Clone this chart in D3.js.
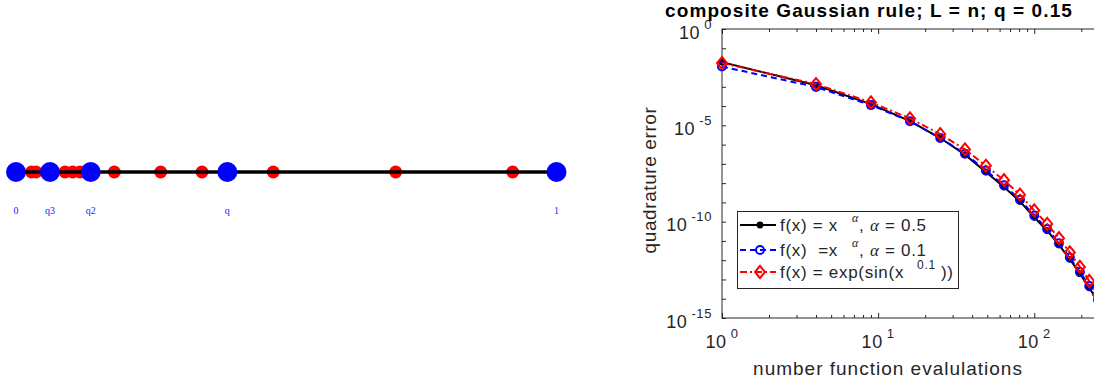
<!DOCTYPE html>
<html>
<head>
<meta charset="utf-8">
<script src="https://cdn.jsdelivr.net/npm/d3@7/dist/d3.min.js"></script>
<style>
  body { margin: 0; background: #fff; }
  svg { display: block; }
</style>
</head>
<body>
<div id="canvas"></div>
<script>
// ---- left panel: points on the unit interval ----
const nodeLabels = ["0", "q3", "q2", "q", "1"];
const nodePos = [0, 0.0629, 0.1382, 0.391, 1];
const quadPos = [0.0287, 0.037, 0.0907, 0.1049, 0.1184, 0.1819, 0.2677, 0.3441, 0.476, 0.7025, 0.919];

// ---- right panel: error vs number of function evaluations ----
const evals = [1, 4, 9, 16, 25, 36, 49, 64, 81, 100, 121, 144, 169, 196, 225, 256];
const errAlphaHalf = [1.91e-2, 1.20e-3, 1.26e-4, 1.66e-5, 2.19e-6, 3.02e-7, 3.80e-8, 6.31e-9,
  1.12e-9, 1.70e-10, 3.39e-11, 6.17e-12, 1.12e-12, 2.00e-13, 3.72e-14, 7.08e-15];
const errAlphaTenth = [1.12e-2, 9.77e-4, 1.12e-4, 1.62e-5, 2.19e-6, 3.39e-7, 4.57e-8, 7.76e-9,
  1.38e-9, 2.09e-10, 4.17e-11, 7.59e-12, 1.38e-12, 2.45e-13, 4.57e-14, 8.91e-15];
const errExpSin = [1.70e-2, 1.38e-3, 1.55e-4, 2.29e-5, 3.47e-6, 5.62e-7, 7.94e-8, 1.41e-8,
  2.51e-9, 3.80e-10, 7.59e-11, 1.38e-11, 2.51e-12, 4.47e-13, 8.32e-14, 1.58e-14];

const xMajor = [1, 10, 100];
const xMinor = [2, 3, 4, 5, 6, 7, 8, 9, 20, 30, 40, 50, 60, 70, 80, 90, 200];
const yDecades = d3.range(0, -16, -1).map(e => Math.pow(10, e));
const yLabelExp = [0, -5, -10, -15];

const titleText = "composite Gaussian rule; L = n; q = 0.15";
const xLabelText = "number function evalulations";
const yLabelText = "quadrature error";

const width = 1094, height = 383;
const ink = "#262626";
const sans = "'Liberation Sans', Arial, Helvetica, sans-serif";
const serif = "'Liberation Serif', 'Times New Roman', serif";

const svg = d3.select("#canvas")
    .append("svg")
    .attr("width", width)
    .attr("height", height);

// ================= left panel =================
const xl = d3.scaleLinear().domain([0, 1]).range([16, 556.5]);
const lineY = 172;
const left = svg.append("g");

left.selectAll(".quad")
    .data(quadPos)
    .enter()
    .append("circle")
    .attr("cx", d => xl(d))
    .attr("cy", lineY)
    .attr("r", 6.5)
    .style("fill", "#ff0000");

left.append("line")
    .attr("x1", xl(0)).attr("x2", xl(1))
    .attr("y1", lineY).attr("y2", lineY)
    .style("stroke", "#000")
    .style("stroke-width", 3.5);

left.selectAll(".node")
    .data(nodePos)
    .enter()
    .append("circle")
    .attr("cx", d => xl(d))
    .attr("cy", lineY)
    .attr("r", 10)
    .style("fill", "#0000ff");

left.selectAll(".nodeLabel")
    .data(nodePos)
    .enter()
    .append("text")
    .attr("x", d => xl(d))
    .attr("y", 214)
    .attr("text-anchor", "middle")
    .style("font-family", serif)
    .style("font-size", "10px")
    .style("fill", "#2020ff")
    .text((d, i) => nodeLabels[i]);

// ================= right panel =================
const ax = {left: 722, top: 29, right: 1098, bottom: 318};

const x = d3.scaleLog()
    .domain([1, 256])
    .range([ax.left, ax.right]);
const y = d3.scaleLog()
    .domain([1e-15, 1])
    .range([ax.bottom, ax.top]);

const right = svg.append("g");

// ticks (inward, mirrored on every side)
function tickGroup(axisFn, scale, vals, len, tx, ty) {
    const g = right.append("g")
        .attr("transform", "translate(" + tx + "," + ty + ")")
        .call(axisFn(scale).tickValues(vals).tickSize(-len).tickFormat(""));
    g.select(".domain").remove();
    g.selectAll(".tick line").style("stroke", ink).style("stroke-width", 1);
}
tickGroup(d3.axisBottom, x, xMajor, 5, 0, ax.bottom);
tickGroup(d3.axisBottom, x, xMinor, 3, 0, ax.bottom);
tickGroup(d3.axisTop, x, xMajor, 5, 0, ax.top);
tickGroup(d3.axisTop, x, xMinor, 3, 0, ax.top);
tickGroup(d3.axisLeft, y, yDecades, 4, ax.left, 0);
tickGroup(d3.axisRight, y, yDecades, 4, ax.right, 0);

right.append("rect")
    .attr("x", ax.left).attr("y", ax.top)
    .attr("width", ax.right - ax.left).attr("height", ax.bottom - ax.top)
    .style("fill", "none")
    .style("stroke", ink)
    .style("stroke-width", 1);

// tick labels with superscripts
function powerLabel(sel, exp) {
    sel.append("tspan").text("10");
    sel.append("tspan")
        .attr("dx", 4).attr("dy", -10)
        .style("font-size", "13px")
        .text(String(exp));
}
xMajor.forEach(v => {
    const t = right.append("text")
        .attr("x", x(v)).attr("y", 348)
        .attr("text-anchor", "middle")
        .style("font-family", sans).style("font-size", "18px")
        .style("letter-spacing", "0.6px")
        .style("fill", ink);
    powerLabel(t, Math.round(Math.log10(v)));
});
yLabelExp.forEach(e => {
    const t = right.append("text")
        .attr("x", 712).attr("y", y(Math.pow(10, e)) + 9.5)
        .attr("text-anchor", "end")
        .style("font-family", sans).style("font-size", "18px")
        .style("letter-spacing", "0.6px")
        .style("fill", ink);
    powerLabel(t, e);
});

// series
const series = [
    {vals: errAlphaHalf, color: "#000000", dash: null, marker: "dot"},
    {vals: errAlphaTenth, color: "#0000ff", dash: "6,4", marker: "circle"},
    {vals: errExpSin, color: "#ff0000", dash: "7,3,2,3", marker: "diamond"}
];

const line = d3.line()
    .x(d => x(d[0]))
    .y(d => y(d[1]));

function drawMarker(g, kind, color, cx, cy) {
    if (kind === "dot") {
        g.append("circle").attr("cx", cx).attr("cy", cy).attr("r", 3.4)
            .style("fill", color);
    } else if (kind === "circle") {
        g.append("circle").attr("cx", cx).attr("cy", cy).attr("r", 4)
            .style("fill", "none").style("stroke", color).style("stroke-width", 2);
    } else {
        g.append("path")
            .attr("d", d3.symbol().type(d3.symbolDiamond).size(55)())
            .attr("transform", "translate(" + cx + "," + cy + ") scale(1.25,0.88)")
            .style("fill", "none").style("stroke", color).style("stroke-width", 1.8);
    }
}

series.forEach(s => {
    const pts = evals.map((n, i) => [n, s.vals[i]]);
    right.append("path")
        .datum(pts)
        .attr("d", line)
        .style("fill", "none")
        .style("stroke", s.color)
        .style("stroke-width", 2)
        .style("stroke-dasharray", s.dash);
    const mg = right.append("g");
    pts.forEach(p => drawMarker(mg, s.marker, s.color, x(p[0]), y(p[1])));
});

// title and axis labels
right.append("text")
    .attr("x", 869).attr("y", 17)
    .attr("text-anchor", "middle")
    .style("font-family", sans).style("font-size", "19px")
    .style("font-weight", "bold").style("letter-spacing", "1.1px")
    .style("fill", "#000")
    .text(titleText);

right.append("text")
    .attr("x", 888).attr("y", 375)
    .attr("text-anchor", "middle")
    .style("font-family", sans).style("font-size", "19px")
    .style("letter-spacing", "1px")
    .style("fill", ink)
    .text(xLabelText);

right.append("text")
    .attr("transform", "translate(656,180) rotate(-90)")
    .attr("text-anchor", "middle")
    .style("font-family", sans).style("font-size", "19px")
    .style("letter-spacing", "0.6px")
    .style("fill", ink)
    .text(yLabelText);

// legend
const legendRows = [
    [{t: "f(x) = x"}, {t: "\u03b1", sup: true, dx: 14, sym: true}, {t: ","}, {t: " "}, {t: "\u03b1", sym: true}, {t: " = 0.5"}],
    [{t: "f(x)  =x"}, {t: "\u03b1", sup: true, dx: 14, sym: true}, {t: ","}, {t: " "}, {t: "\u03b1", sym: true}, {t: " = 0.1"}],
    [{t: "f(x) = exp(sin(x"}, {t: "0.1", sup: true, dx: 13}, {t: "))", dx: 5}]
];
const legendY = [225, 250, 272];

const lg = right.append("g");
lg.append("rect")
    .attr("x", 737.5).attr("y", 211.5)
    .attr("width", 221).attr("height", 77)
    .style("fill", "#fff")
    .style("stroke", ink)
    .style("stroke-width", 1);

series.forEach((s, i) => {
    const ly = legendY[i];
    lg.append("line")
        .attr("x1", 740).attr("x2", 776)
        .attr("y1", ly).attr("y2", ly)
        .style("stroke", s.color).style("stroke-width", 2)
        .style("stroke-dasharray", s.dash);
    drawMarker(lg, s.marker, s.color, 760, ly);

    const t = lg.append("text")
        .attr("x", 780).attr("y", ly + 6)
        .style("font-family", sans).style("font-size", "17px")
        .style("letter-spacing", "0.7px")
        .style("white-space", "pre")
        .style("fill", ink);
    let raised = false;
    legendRows[i].forEach(part => {
        const sp = t.append("tspan").text(part.t);
        let dy = 0;
        if (part.sup && !raised) { dy = -9; raised = true; }
        else if (!part.sup && raised) { dy = 9; raised = false; }
        if (dy) sp.attr("dy", dy);
        if (part.dx) sp.attr("dx", part.dx);
        if (part.sup) sp.style("font-size", "12px");
        if (part.sym) sp.style("font-family", serif).style("font-style", "italic");
    });
});
</script>
</body>
</html>
